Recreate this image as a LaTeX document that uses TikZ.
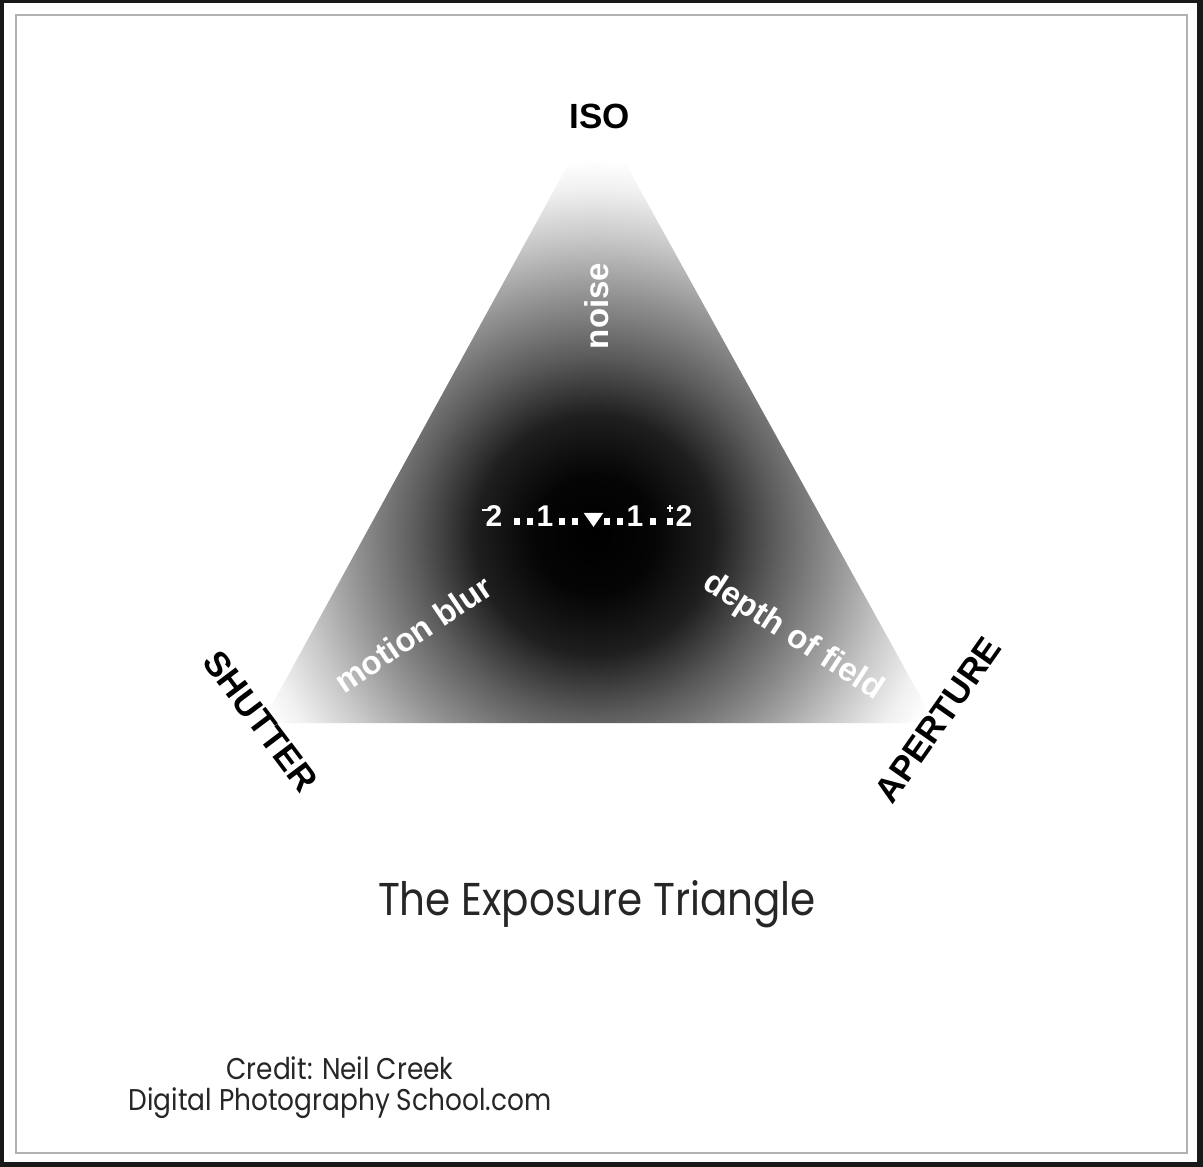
\documentclass[tikz,border=0pt]{standalone}
\usepackage{fontspec}
\usetikzlibrary{shapes.geometric}
\setmainfont{Liberation Sans}
\newfontfamily\titlefont{Poppins}
\pgfdeclareradialshading{expo}{\pgfpoint{0bp}{0bp}}{color(0bp)=(black); color(3.4bp)=(black!98); color(6.8bp)=(black!88); color(10.2bp)=(black!64); color(13.6bp)=(black!43); color(17bp)=(black!21); color(19.6bp)=(black!6); color(21.3bp)=(white); color(50bp)=(white)}
\tikzset{
  corner/.style={font=\fontsize{35}{35}\selectfont\bfseries, text=black, inner sep=0pt},
  effect/.style={font=\fontsize{33}{33}\selectfont\bfseries, text=white, inner sep=0pt},
  digit/.style={font=\fontsize{30}{30}\selectfont\bfseries, text=white, inner sep=0pt, anchor=base},
  tick/.style={fill=white, minimum size=6.5pt, inner sep=0pt},
  thin text/.style={text=black!85, inner sep=0pt, xscale=.88}
}
\begin{document}
\begin{tikzpicture}[x=1pt,y=-1pt]
\useasboundingbox (0,0) rectangle (1203,1167);
% frame
\fill[black!90] (0,0) rectangle (1203,1167);
\fill[white] (4,3) rectangle (1197,1162);
\draw[black!30, line width=1.5pt] (16,15) rectangle (1187,1153);
% triangle
\coordinate (apex) at (597,112);
\coordinate (bl) at (262,723);
\coordinate (br) at (935,723);
\begin{scope}
\clip (apex) -- (bl) -- (br) -- cycle;
\shade[shading=expo] (595,535) circle (440pt);
\end{scope}
% corner labels
\node[corner, anchor=base] (iso) at (600,128) {ISO};
\node[corner, rotate=-53] (shutter) at (261,721) {SHUTTER};
\node[corner, rotate=55] (aperture) at (938,720) {APERTURE};
% effect labels
\node[effect, rotate=90] (noise) at (597,306) {noise};
\node[effect, rotate=34] (blur) at (413,634) {motion blur};
\node[effect, rotate=-33] (dof) at (793,637) {depth of field};
% exposure scale
\node[digit] (m2) at (494,526) {2};
\node[fill=white, minimum width=5pt, minimum height=2.5pt, inner sep=0pt] (minus) at (484,510) {};
\node[tick] (t1) at (517,521.5) {};
\node[tick] (t2) at (530,521.5) {};
\node[digit] (m1) at (545,526) {1};
\node[tick] (t3) at (562,521.5) {};
\node[tick] (t4) at (575,521.5) {};
\node[fill=white, isosceles triangle, isosceles triangle apex angle=70, shape border rotate=-90, minimum width=14pt, minimum height=14pt, inner sep=0pt] (zero) at (593.5,518) {};
\node[tick] (t5) at (607,521.5) {};
\node[tick] (t6) at (620,521.5) {};
\node[digit] (p1) at (635,526) {1};
\node[tick] (t7) at (653,521.5) {};
\node[tick] (t8) at (670,521.5) {};
\node[fill=white, minimum width=6pt, minimum height=2pt, inner sep=0pt] (plush) at (670,508) {};
\node[fill=white, minimum width=2pt, minimum height=7pt, inner sep=0pt] (plusv) at (670,508) {};
\node[digit] (p2) at (684,526) {2};
% title and credit
\node[thin text, font=\titlefont\fontsize{46}{46}\selectfont, anchor=base] (title) at (597,915) {The Exposure Triangle};
\node[thin text, font=\titlefont\fontsize{30}{30}\selectfont, anchor=base] (credit1) at (340,1079) {Credit: Neil Creek};
\node[thin text, font=\titlefont\fontsize{30}{30}\selectfont, anchor=base] (credit2) at (340,1110) {Digital Photography School.com};
\end{tikzpicture}
\end{document}
